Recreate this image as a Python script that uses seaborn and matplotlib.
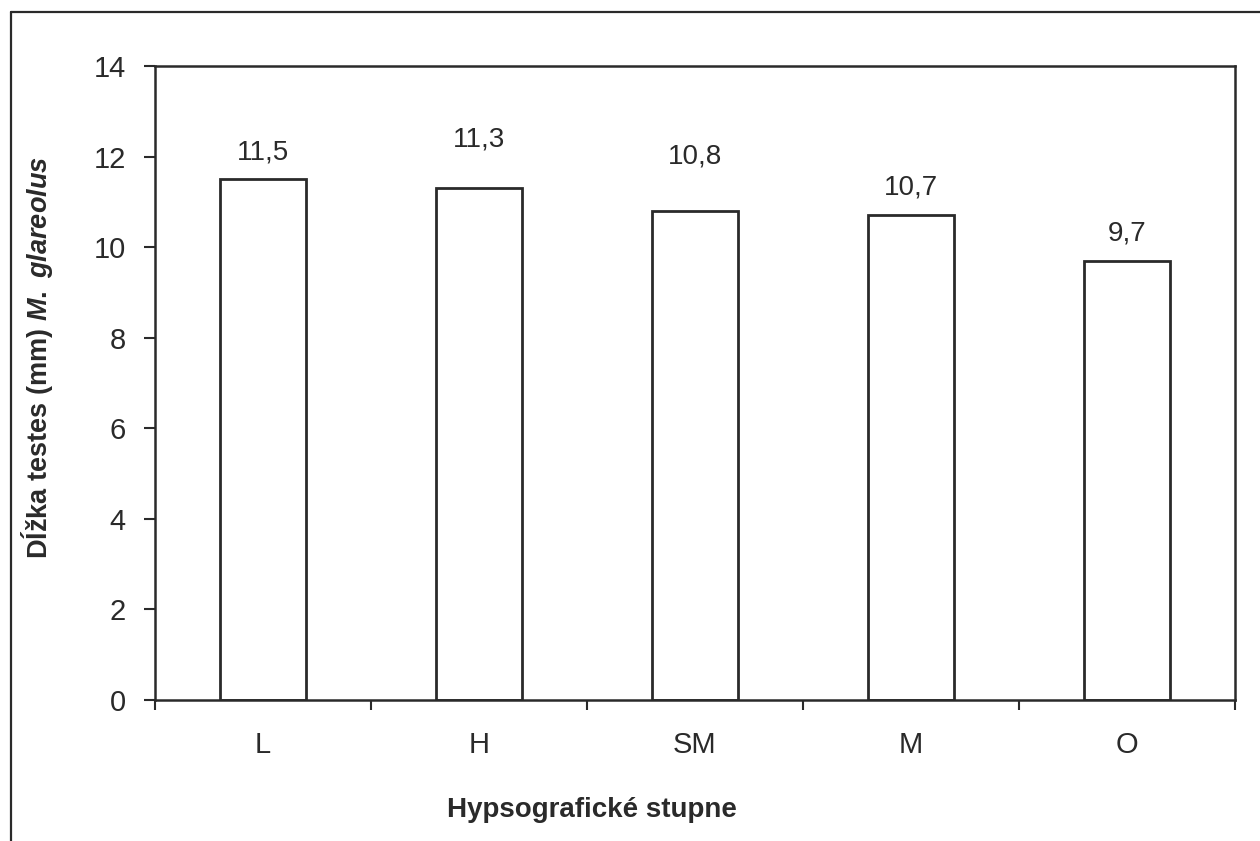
import matplotlib
matplotlib.use("Agg")
import matplotlib.pyplot as plt
from matplotlib.lines import Line2D
from matplotlib.ticker import FixedLocator
import seaborn as sns

# data
stupne = ["L", "H", "SM", "M", "O"]
dlzka_mm = [11.5, 11.3, 10.8, 10.7, 9.7]
y_ticks = [0, 2, 4, 6, 8, 10, 12, 14]

# the original places some value labels higher above their bar than others
label_pad_pt = [10, 26, 29.5, 10.5, 10]

sns.set_style("white")
plt.rcParams["font.family"] = ["Liberation Sans", "DejaVu Sans"]
plt.rcParams["mathtext.fontset"] = "custom"
plt.rcParams["mathtext.it"] = "Liberation Sans:bold:italic"
plt.rcParams["mathtext.rm"] = "Liberation Sans:bold"

INK = "#2a2a2a"

fig = plt.figure(figsize=(12.6, 8.41), dpi=100)
ax = fig.add_axes([155 / 1260, 1 - 700 / 841, 1080 / 1260, 634 / 841])

sns.barplot(x=stupne, y=dlzka_mm, color="white", edgecolor=INK,
            linewidth=2, width=0.4, saturation=1, ax=ax)

# value labels with decimal comma, one bar_label call per bar for its own padding
bars = ax.containers[0]
for bar, v, pad in zip(bars, dlzka_mm, label_pad_pt):
    ax.bar_label(bars, labels=[f"{v:.1f}".replace(".", ",") if b is bar else ""
                               for b in bars],
                 padding=pad, fontsize=20, color=INK)

ax.set_ylim(0, 14)
ax.set_xlim(-0.5, len(stupne) - 0.5)
ax.set_yticks(y_ticks)
ax.set_yticklabels([str(t) for t in y_ticks])

# category boundaries carry the tick marks, labels sit at centres
ax.xaxis.set_minor_locator(FixedLocator([i - 0.5 for i in range(len(stupne) + 1)]))
ax.tick_params(axis="x", which="major", length=0, pad=22, labelsize=21, labelcolor=INK)
ax.tick_params(axis="x", which="minor", length=7, width=1.5, color=INK, direction="out", bottom=True)
ax.tick_params(axis="y", length=8, width=1.5, color=INK, direction="out", pad=13,
               labelsize=21, labelcolor=INK, left=True)

for sp in ax.spines.values():
    sp.set_visible(True)
    sp.set_color(INK)
    sp.set_linewidth(1.8)

ax.set_xlabel("Hypsografické stupne", fontsize=20, fontweight="bold", color=INK)
ax.xaxis.set_label_coords((592 - 155) / 1080, -(797 - 700) / 634)
ax.set_ylabel(r"Dĺžka testes (mm) $M.\ glareolus$", fontsize=19.5,
              fontweight="bold", color=INK)
ax.yaxis.set_label_coords(-(155 - 55) / 1080, (700 - 358) / 634)

# outer frame (only left and top edges are inside the picture)
x0, y0 = 11 / 1260, 1 - 12 / 841
fig.add_artist(Line2D([x0, x0], [0, y0], color=INK, lw=1.6, transform=fig.transFigure))
fig.add_artist(Line2D([x0, 1], [y0, y0], color=INK, lw=1.6, transform=fig.transFigure))

fig.savefig("out.png", dpi=100, facecolor="white")
